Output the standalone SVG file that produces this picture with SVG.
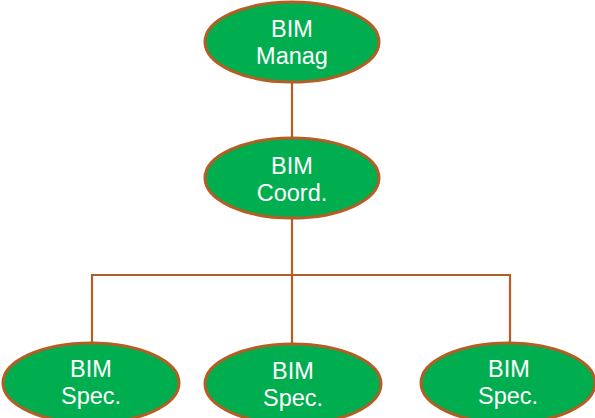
<svg xmlns="http://www.w3.org/2000/svg" width="595" height="418" viewBox="0 0 595 418">
<style>
.node ellipse{fill:#00AE50;stroke:#B35E24;stroke-width:3}
.node text{fill:#fff;font-family:"Liberation Sans",Arial,sans-serif;font-size:23.5px;text-anchor:middle}
.conn line{stroke:#B35E24;stroke-width:2.2}
</style>
<rect width="595" height="418" fill="#fff"/>
<g id="connectors" class="conn">
<line x1="292" y1="82" x2="292" y2="138"/>
<line x1="292" y1="218" x2="292" y2="343"/>
<line x1="91" y1="275" x2="510" y2="275"/>
<line x1="92" y1="274" x2="92" y2="343"/>
<line x1="510" y1="274" x2="510" y2="343"/>
</g>
<g id="bim-manag" class="node">
<ellipse cx="292" cy="42" rx="87" ry="40"/>
<text x="292" y="37">BIM</text>
<text x="292" y="64">Manag</text>
</g>
<g id="bim-coord" class="node">
<ellipse cx="292" cy="178" rx="87" ry="40"/>
<text x="292" y="174">BIM</text>
<text x="292" y="201">Coord.</text>
</g>
<g id="bim-spec-1" class="node">
<ellipse cx="91" cy="383" rx="88" ry="40"/>
<text x="91" y="377">BIM</text>
<text x="91" y="404">Spec.</text>
</g>
<g id="bim-spec-2" class="node">
<ellipse cx="293" cy="384" rx="88" ry="40"/>
<text x="293" y="379">BIM</text>
<text x="293" y="406">Spec.</text>
</g>
<g id="bim-spec-3" class="node">
<ellipse cx="508" cy="383" rx="87" ry="40"/>
<text x="509" y="377">BIM</text>
<text x="508" y="404">Spec.</text>
</g>
</svg>
